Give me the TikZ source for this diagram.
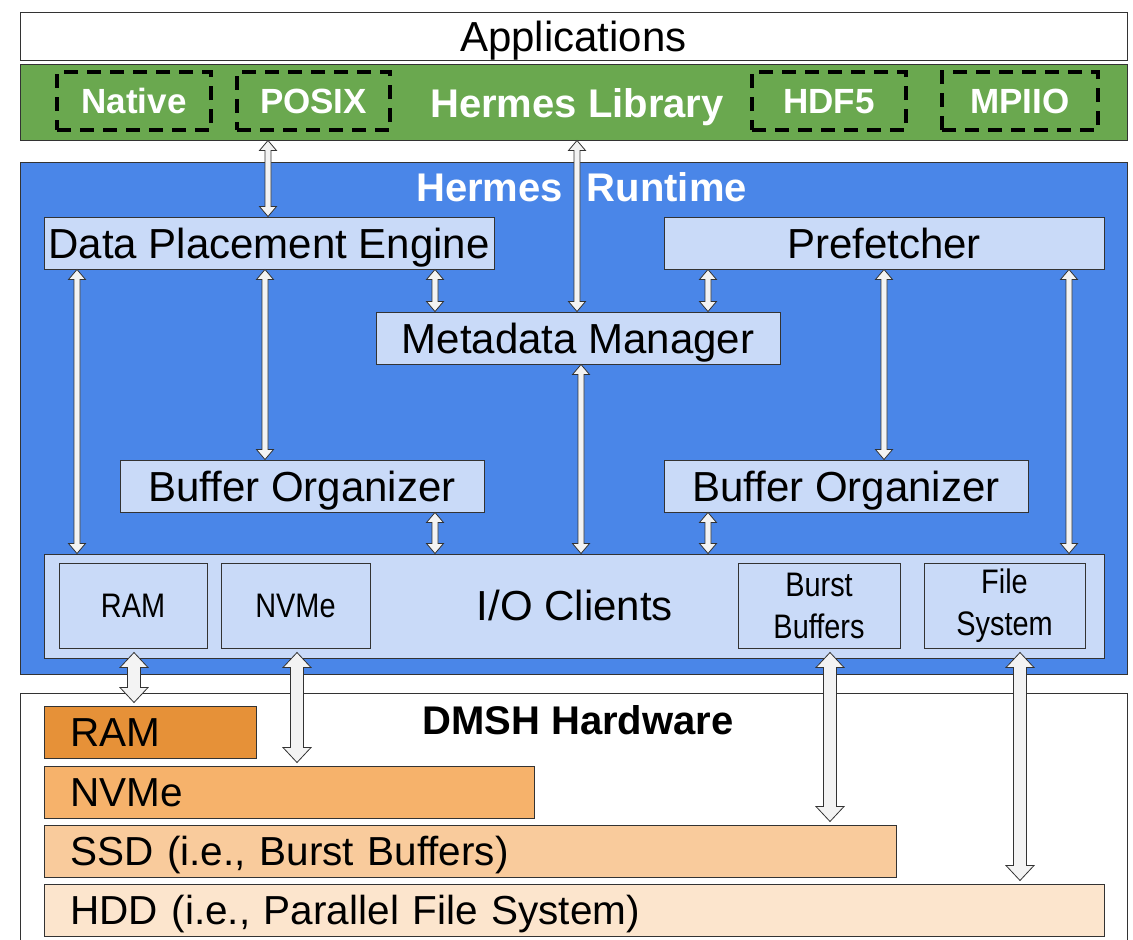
\documentclass[tikz,border=0pt]{standalone}
\usepackage{fontspec}
\setmainfont{Liberation Sans}
\newfontfamily\narrowfont[FakeStretch=0.85]{Liberation Sans}
\usetikzlibrary{calc}
\definecolor{rtblue}{HTML}{4A86E8}
\definecolor{boxblue}{HTML}{C9DAF8}
\definecolor{libgreen}{HTML}{6AA84F}
\definecolor{ramcol}{HTML}{E69138}
\definecolor{nvmecol}{HTML}{F6B26B}
\definecolor{ssdcol}{HTML}{F9CB9C}
\definecolor{hddcol}{HTML}{FCE5CD}
\definecolor{arrowfill}{HTML}{F3F3F3}
\tikzset{
    panel/.style={draw=black!80, line width=1pt, inner sep=0pt},
    bigtext/.style={font=\fontsize{42}{46}\selectfont, text height=30pt, text depth=0pt},
    box/.style={panel, fill=boxblue, minimum height=52pt, bigtext},
    client/.style={panel, fill=boxblue, minimum height=85pt, align=center, font=\narrowfont\fontsize{34}{42}\selectfont},
    api/.style={draw=black, line width=4pt, dash pattern=on 14pt off 9pt, minimum height=58pt, text=white, font=\bfseries\fontsize{35}{40}\selectfont, text height=25pt, text depth=0pt},
    headtext/.style={font=\bfseries\fontsize{40}{44}\selectfont, text height=29pt, text depth=0pt},
    bar/.style={panel, anchor=west, minimum height=52pt, inner xsep=26pt, align=left, font=\fontsize{40.5}{44}\selectfont, text height=29pt, text depth=0pt},
    blockarrow/.style args={#1/#2/#3}{draw=black!80, line width=0.8pt, fill=arrowfill,
        to path={let \p1=(\tikztostart), \p2=(\tikztotarget) in
            (\x1,\y1) -- (\x1+#2,\y1-#3) -- (\x1+#1,\y1-#3) -- (\x1+#1,\y2+#3) -- (\x1+#2,\y2+#3) -- (\x1,\y2)
            -- (\x1-#2,\y2+#3) -- (\x1-#1,\y2+#3) -- (\x1-#1,\y1-#3) -- (\x1-#2,\y1-#3) -- cycle}},
    thinarrow/.style={blockarrow=3pt/8.5pt/10pt},
    widearrow/.style={blockarrow=6.5pt/14pt/15pt}
}
\begin{document}
\begin{tikzpicture}[x=1pt,y=-1pt]
\useasboundingbox (0,0) rectangle (1133,940);
\node[panel, fill=white, minimum width=1107pt, minimum height=48pt, bigtext] (apps) at (573.5,36) {Applications};
\node[panel, fill=libgreen, minimum width=1107pt, minimum height=76pt] (libr) at (573.5,102) {};
\node[headtext, text=white] (librtext) at (577,103) {Hermes Library};
\foreach \n/\x/\w/\t in {native/134/154/Native, posix/313.5/153/POSIX, hdf/829/154/HDF5, mpiio/1020/156/MPIIO}{
    \node[api, minimum width=\w pt] (\n) at (\x,101) {\t};
}
\node[panel, fill=rtblue, minimum width=1107pt, minimum height=512pt] (rt) at (573.5,418) {};
\node[headtext, text=white] (rttext) at (581.5,187) {Hermes\hspace{24pt}Runtime};
\node[box, minimum width=450pt] (dpe) at (269,243) {Data Placement Engine};
\node[box, minimum width=440pt] (pref) at (884,243) {Prefetcher};
\node[box, minimum width=404pt] (mm) at (578,338) {Metadata Manager};
\node[box, minimum width=364pt] (bol) at (302,486) {Buffer Organizer};
\node[box, minimum width=364pt] (bor) at (846,486) {Buffer Organizer};
\node[panel, fill=boxblue, minimum width=1060pt, minimum height=104pt] (io) at (574,606) {};
\node[bigtext] (iotext) at (575,605) {I/O Clients};
\foreach \n/\x/\w/\t in {cram/133/148/RAM, cnvme/295.5/149/NVMe, cbb/819/162/{Burst\\Buffers}, cfs/1004.5/161/{File\\System}}{
    \node[client, minimum width=\w pt] (\n) at (\x,605.5) {\t};
}
\node[panel, fill=white, anchor=north, minimum width=1107pt, minimum height=270pt] (hw) at (573.5,693) {};
\node[headtext] (hwtext) at (578,720) {DMSH Hardware};
\foreach \n/\y/\w/\c/\t in {hram/732/212/ramcol/RAM, hnvme/792/490/nvmecol/NVMe, hssd/851/852/ssdcol/{SSD (i.e., Burst Buffers)}, hhdd/910/1060/hddcol/{HDD (i.e., Parallel File System)}}{
    \node[bar, fill=\c, text width=\w pt-52pt] (\n) at (44,\y) {\t};
}
\foreach \a/\b/\x in {libr/dpe/268, libr/mm/577, dpe/io/77, dpe/bol/265, dpe/mm/435, pref/mm/708, pref/bor/884, pref/io/1069, mm/io/581, bol/io/435, bor/io/708}{
    \coordinate (\a-\b-top) at (\a.south -| \x,0);
    \coordinate (\a-\b-bot) at (\b.north -| \x,0);
    \draw[thinarrow] (\a-\b-top) to (\a-\b-bot);
}
\foreach \a/\b/\x in {cram/hram/134, cnvme/hnvme/297, cbb/hssd/830, cfs/hhdd/1020}{
    \coordinate (\a-top) at ($(\a.south -| \x,0)+(0,4)$);
    \coordinate (\b-bot) at ($(\b.north -| \x,0)+(0,-3)$);
    \draw[widearrow] (\a-top) to (\b-bot);
}
\end{tikzpicture}
\end{document}
